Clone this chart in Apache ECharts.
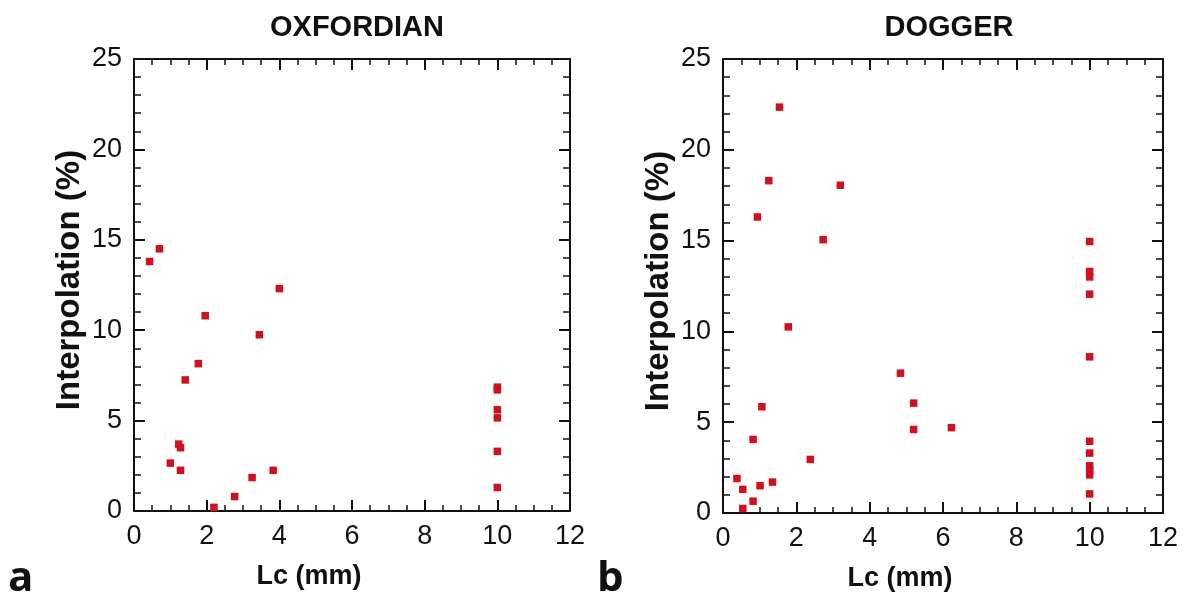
<!DOCTYPE html>
<html>
<head>
<meta charset="utf-8">
<script src="https://cdn.jsdelivr.net/npm/echarts@6/dist/echarts.min.js"></script>
<style>
html,body{margin:0;padding:0;background:#fff;}
#chart{width:1187px;height:607px;}
</style>
</head>
<body>
<div id="chart"></div>
<script>
// ---- data ----
var panelTitles = ['OXFORDIAN', 'DOGGER'];
var panelLetters = ['a', 'b'];
var xTicks = [0, 2, 4, 6, 8, 10, 12];
var yTicks = [0, 5, 10, 15, 20, 25];

var oxfordianLc = [0.43, 0.70, 4.00, 1.96, 3.45, 1.77, 1.41, 1.23, 1.28, 1.00, 1.28, 3.25, 3.83, 2.77, 2.20,
                   10.0, 10.0, 10.0, 10.0, 10.0, 10.0];
var oxfordianInterp = [13.8, 14.5, 12.3, 10.8, 9.75, 8.15, 7.25, 3.7, 3.5, 2.65, 2.25, 1.85, 2.25, 0.8, 0.2,
                       6.85, 6.7, 5.6, 5.15, 3.3, 1.3];

var doggerLc = [1.54, 1.25, 3.20, 0.94, 2.73, 1.78, 4.84, 5.20, 5.20, 6.23, 1.06, 0.82, 2.38, 0.38, 0.54, 1.01, 1.35, 0.82, 0.54,
                10.0, 10.0, 10.0, 10.0, 10.0, 10.0, 10.0, 10.0, 10.0, 10.0, 10.0];
var doggerInterp = [22.35, 18.3, 18.05, 16.3, 15.05, 10.25, 7.7, 6.05, 4.6, 4.7, 5.85, 4.05, 2.95, 1.9, 1.3, 1.5, 1.7, 0.65, 0.25,
                    14.95, 13.3, 13.0, 12.05, 8.6, 3.95, 3.3, 2.6, 2.35, 2.1, 1.05];

function pairs(xs, ys) { return xs.map(function (x, i) { return [x, ys[i]]; }); }

var FONT = 'Liberation Sans';
var grids = [
  {left: 134, top: 59, width: 436, height: 452},
  {left: 723, top: 59, width: 440, height: 454}
];
var axisLine = {show: true, onZero: false, lineStyle: {color: '#111', width: 2}};

function xAx(g, pos, showLabel, name) {
  return {
    type: 'value', gridIndex: g, position: pos, min: xTicks[0], max: xTicks[xTicks.length - 1], interval: 2,
    axisLine: axisLine,
    axisTick: {show: true, inside: true, length: 11, lineStyle: {color: '#111', width: 2}},
    minorTick: {show: true, splitNumber: 4, length: 6, lineStyle: {color: '#111', width: 1.5}},
    splitLine: {show: false},
    axisLabel: {show: showLabel, fontFamily: FONT, fontSize: 27, color: '#111', margin: 12},
    name: name || '', nameLocation: 'middle', nameGap: 52,
    nameTextStyle: {fontFamily: FONT, fontSize: 27, fontWeight: 'bold', color: '#111', padding: [0, 86, 0, 0]}
  };
}
function yAx(g, pos, showLabel, name) {
  return {
    type: 'value', gridIndex: g, position: pos, min: yTicks[0], max: yTicks[yTicks.length - 1], interval: 5,
    axisLine: axisLine,
    axisTick: {show: true, inside: true, length: 11, lineStyle: {color: '#111', width: 2}},
    minorTick: {show: true, splitNumber: 5, length: 7, lineStyle: {color: '#111', width: 1.5}},
    splitLine: {show: false},
    axisLabel: {show: showLabel, fontFamily: FONT, fontSize: 27, color: '#111', margin: 12},
    name: name || '', nameLocation: 'middle', nameGap: 48,
    nameTextStyle: {fontFamily: FONT, fontSize: 33, fontWeight: 'bold', color: '#111', padding: [0, 0, 0, 10]}
  };
}

var option = {
  backgroundColor: '#fff',
  animation: false,
  title: [
    {text: panelTitles[0], left: 352, top: 8, textAlign: 'center',
     textStyle: {fontFamily: FONT, fontSize: 29, fontWeight: 'bold', color: '#111'}},
    {text: panelTitles[1], left: 944, top: 8, textAlign: 'center',
     textStyle: {fontFamily: FONT, fontSize: 29, fontWeight: 'bold', color: '#111'}}
  ],
  grid: grids,
  xAxis: [
    xAx(0, 'bottom', true, 'Lc (mm)'), xAx(0, 'top', false),
    xAx(1, 'bottom', true, 'Lc (mm)'), xAx(1, 'top', false)
  ],
  yAxis: [
    yAx(0, 'left', true, 'Interpolation (%)'), yAx(0, 'right', false),
    yAx(1, 'left', true, 'Interpolation (%)'), yAx(1, 'right', false)
  ],
  graphic: [
    {type: 'text', left: 8, top: 558, style: {text: panelLetters[0], font: 'bold 42px "Open Sans"', fill: '#111'}},
    {type: 'text', left: 597, top: 558, style: {text: panelLetters[1], font: 'bold 42px "Open Sans"', fill: '#111'}}
  ],
  series: [
    {type: 'scatter', name: panelTitles[0], xAxisIndex: 0, yAxisIndex: 0, symbol: 'rect', symbolSize: 7.5,
     itemStyle: {color: '#d0101e', opacity: 1}, data: pairs(oxfordianLc, oxfordianInterp)},
    {type: 'scatter', name: panelTitles[1], xAxisIndex: 2, yAxisIndex: 2, symbol: 'rect', symbolSize: 7.5,
     itemStyle: {color: '#d0101e', opacity: 1}, data: pairs(doggerLc, doggerInterp)}
  ]
};

var chart = echarts.init(document.getElementById('chart'), null, {renderer: 'canvas'});
chart.setOption(option);
</script>
</body>
</html>
